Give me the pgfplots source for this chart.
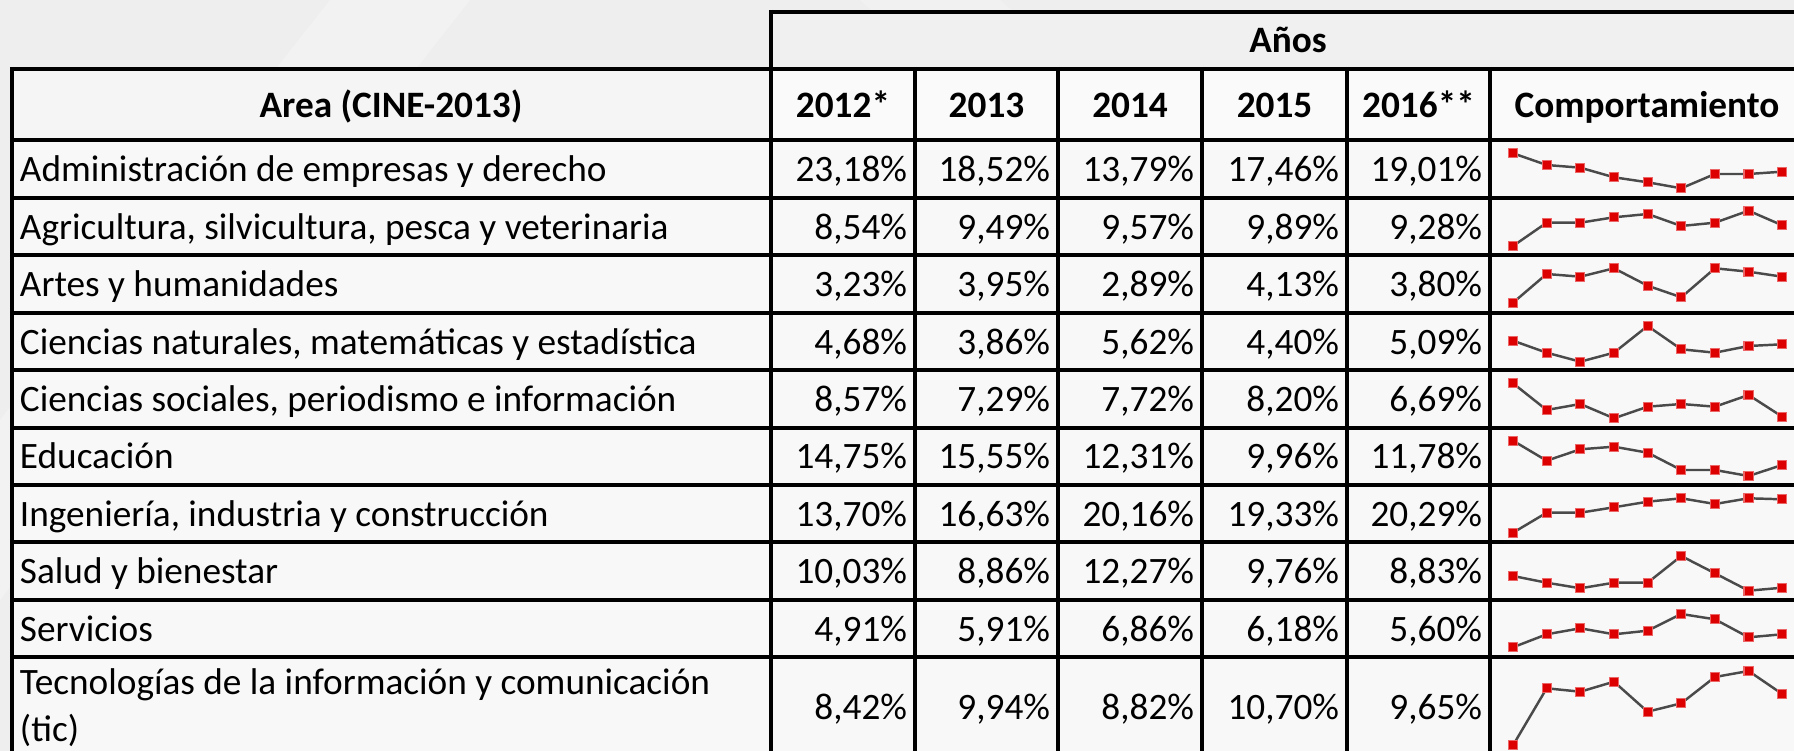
\documentclass[border=0pt]{standalone}
\usepackage{pgfplots}
\pgfplotsset{compat=1.18}
\usepackage{pgfplotstable}
\usepackage{fontspec}
\setmainfont{Carlito}
\definecolor{bg}{HTML}{EEEEEE}
\definecolor{cell}{HTML}{FAFAFA}
\definecolor{hcell}{HTML}{F0F0F0}
\definecolor{acell}{HTML}{F5F5F5}
\definecolor{spk}{HTML}{4A4A4A}
\definecolor{mk}{HTML}{DD0000}
\newcommand\tf{\fontsize{10.6pt}{13pt}\selectfont}

% sparkline heights (px above the row's bottom edge), 9 points per row
\pgfplotstableread{
i  r1   r2   r3   r4   r5   r6   r7   r8   r9   r10
1  44.7 9.0  10.3 29.3 44.7 44.3 9.3  24.0 9.7  5.7
2  33.0 32.3 39.0 17.3 18.0 24.3 29.3 17.3 22.7 62.7
3  30.3 32.3 36.3 8.3  24.0 35.7 29.3 11.7 28.7 59.3
4  20.7 37.7 44.7 17.3 9.7  38.3 34.7 17.3 22.7 69.3
5  15.7 41.0 27.3 44.0 21.3 32.3 40.3 17.3 26.3 39.3
6  9.7  29.0 15.7 20.7 24.0 15.0 43.7 44.0 43.0 47.7
7  24.0 32.3 44.7 17.3 21.3 15.0 38.0 26.7 37.7 74.0
8  24.0 44.3 41.3 24.0 33.0 9.0  43.7 9.3  19.7 80.0
9  26.3 29.7 36.3 25.7 11.3 20.0 42.7 12.3 22.7 57.0
}\spark

\tikzset{every node/.style={inner sep=0pt, outer sep=0pt}}
\pgfplotsset{spark/.style={spk, line width=0.7pt, mark=square*, mark size=1.3pt,
  mark options={draw=mk!60!white, fill=mk, line width=0.3pt, solid}}}
\newcommand\vrow[6]{%
  \node[anchor=base east, font=\tf] at (axis cs:907,#1) {#2};
  \node[anchor=base east, font=\tf] at (axis cs:1050,#1) {#3};
  \node[anchor=base east, font=\tf] at (axis cs:1194,#1) {#4};
  \node[anchor=base east, font=\tf] at (axis cs:1339,#1) {#5};
  \node[anchor=base east, font=\tf] at (axis cs:1482,#1) {#6};}

\begin{document}
\begin{tikzpicture}
\begin{axis}[name=ax, x=0.1mm, y=0.1mm, y dir=reverse,
  xmin=0, xmax=1794, ymin=0, ymax=751, hide axis, clip=false, scale only axis]
% background
\fill[bg] (axis cs:0,0) rectangle (axis cs:1794,751);
\fill[white, opacity=0.25] (axis cs:0,420) -- (axis cs:330,0) -- (axis cs:470,0) -- (axis cs:0,600) -- cycle;
\fill[white, opacity=0.2] (axis cs:860,0) -- (axis cs:1000,0) -- (axis cs:1794,700) -- (axis cs:1794,751) -- (axis cs:1700,751) -- cycle;
% cells
\fill[cell, opacity=0.85] (axis cs:12,140) rectangle (axis cs:1794,751);
\fill[hcell] (axis cs:771,12) rectangle (axis cs:1794,69);
\fill[acell] (axis cs:12,69) rectangle (axis cs:771,140);
\fill[cell] (axis cs:771,69) rectangle (axis cs:1794,140);
% grid
\draw[line width=1.05pt] (axis cs:769,12) -- (axis cs:1794,12);
\draw[line width=1.05pt] (axis cs:10,69) -- (axis cs:1794,69);
\draw[line width=1.05pt] (axis cs:10,140) -- (axis cs:1794,140);
\pgfplotsinvokeforeach{198,255,313,370,428,485,542,600,657}{
  \draw[line width=1.05pt] (axis cs:10,#1) -- (axis cs:1794,#1);}
\draw[line width=1.05pt] (axis cs:12,67) -- (axis cs:12,751);
\draw[line width=1.05pt] (axis cs:771,10) -- (axis cs:771,751);
\pgfplotsinvokeforeach{915,1058,1202,1347,1490}{
  \draw[line width=1.05pt] (axis cs:#1,67) -- (axis cs:#1,751);}
% headers
\node[anchor=base, font=\tf\bfseries] at (axis cs:1288,53) {Años};
\node[anchor=base, font=\tf\bfseries] at (axis cs:391,118) {Area (CINE-2013)};
\node[anchor=base, font=\tf\bfseries] at (axis cs:843,118) {2012*};
\node[anchor=base, font=\tf\bfseries] at (axis cs:986.5,118) {2013};
\node[anchor=base, font=\tf\bfseries] at (axis cs:1130,118) {2014};
\node[anchor=base, font=\tf\bfseries] at (axis cs:1274.5,118) {2015};
\node[anchor=base, font=\tf\bfseries] at (axis cs:1418.5,118) {2016**};
\node[anchor=base, font=\tf\bfseries] at (axis cs:1647,118) {Comportamiento};
% labels
\node[anchor=base west, font=\tf] at (axis cs:20,182) {Administración de empresas y derecho};
\node[anchor=base west, font=\tf] at (axis cs:20,239.4) {Agricultura, silvicultura, pesca y veterinaria};
\node[anchor=base west, font=\tf] at (axis cs:20,296.8) {Artes y humanidades};
\node[anchor=base west, font=\tf] at (axis cs:20,354.2) {Ciencias naturales, matemáticas y estadística};
\node[anchor=base west, font=\tf] at (axis cs:20,411.6) {Ciencias sociales, periodismo e información};
\node[anchor=base west, font=\tf] at (axis cs:20,469) {Educación};
\node[anchor=base west, font=\tf] at (axis cs:20,526.4) {Ingeniería, industria y construcción};
\node[anchor=base west, font=\tf] at (axis cs:20,583.8) {Salud y bienestar};
\node[anchor=base west, font=\tf] at (axis cs:20,641.2) {Servicios};
\node[anchor=base west, font=\tf] at (axis cs:20,695) {Tecnologías de la información y comunicación};
\node[anchor=base west, font=\tf] at (axis cs:20,742) {(tic)};
% values
\vrow{182}{23,18\%}{18,52\%}{13,79\%}{17,46\%}{19,01\%}
\vrow{239.4}{8,54\%}{9,49\%}{9,57\%}{9,89\%}{9,28\%}
\vrow{296.8}{3,23\%}{3,95\%}{2,89\%}{4,13\%}{3,80\%}
\vrow{354.2}{4,68\%}{3,86\%}{5,62\%}{4,40\%}{5,09\%}
\vrow{411.6}{8,57\%}{7,29\%}{7,72\%}{8,20\%}{6,69\%}
\vrow{469}{14,75\%}{15,55\%}{12,31\%}{9,96\%}{11,78\%}
\vrow{526.4}{13,70\%}{16,63\%}{20,16\%}{19,33\%}{20,29\%}
\vrow{583.8}{10,03\%}{8,86\%}{12,27\%}{9,76\%}{8,83\%}
\vrow{641.2}{4,91\%}{5,91\%}{6,86\%}{6,18\%}{5,60\%}
\vrow{720}{8,42\%}{9,94\%}{8,82\%}{10,70\%}{9,65\%}
% sparklines
\addplot[spark] table[x expr={1513+(\thisrow{i}-1)*33.65}, y expr={198-\thisrow{r1}}] {\spark};
\addplot[spark] table[x expr={1513+(\thisrow{i}-1)*33.65}, y expr={255-\thisrow{r2}}] {\spark};
\addplot[spark] table[x expr={1513+(\thisrow{i}-1)*33.65}, y expr={313-\thisrow{r3}}] {\spark};
\addplot[spark] table[x expr={1513+(\thisrow{i}-1)*33.65}, y expr={370-\thisrow{r4}}] {\spark};
\addplot[spark] table[x expr={1513+(\thisrow{i}-1)*33.65}, y expr={428-\thisrow{r5}}] {\spark};
\addplot[spark] table[x expr={1513+(\thisrow{i}-1)*33.65}, y expr={485-\thisrow{r6}}] {\spark};
\addplot[spark] table[x expr={1513+(\thisrow{i}-1)*33.65}, y expr={542-\thisrow{r7}}] {\spark};
\addplot[spark] table[x expr={1513+(\thisrow{i}-1)*33.65}, y expr={600-\thisrow{r8}}] {\spark};
\addplot[spark] table[x expr={1513+(\thisrow{i}-1)*33.65}, y expr={657-\thisrow{r9}}] {\spark};
\addplot[spark] table[x expr={1513+(\thisrow{i}-1)*33.65}, y expr={751-\thisrow{r10}}] {\spark};
\end{axis}
\pgfresetboundingbox
\useasboundingbox (ax.south west) rectangle (ax.north east);
\end{tikzpicture}
\end{document}
